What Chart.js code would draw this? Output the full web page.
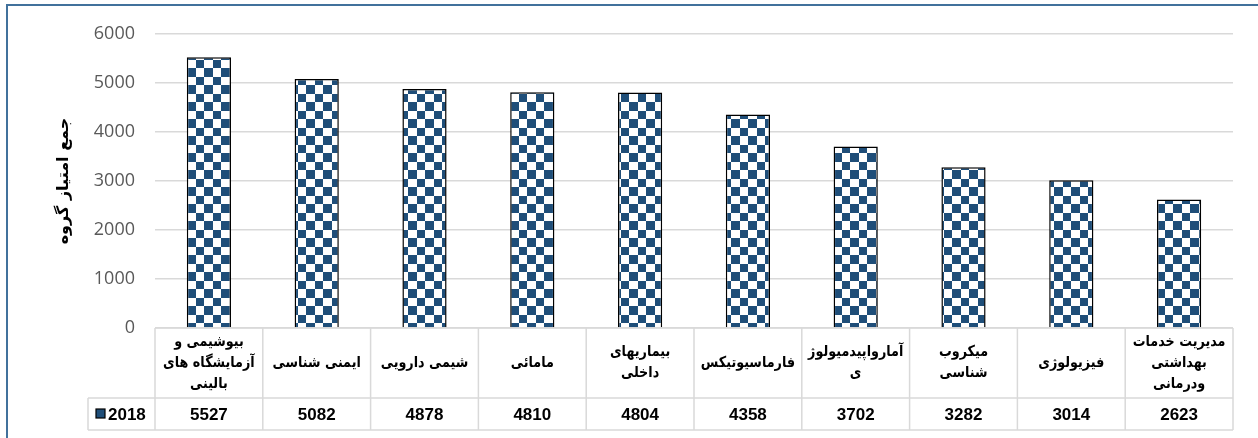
<!DOCTYPE html>
<html>
<head>
<meta charset="utf-8">
<script src="https://cdn.jsdelivr.net/npm/chart.js@4"></script>
<style>
  body { margin: 0; background: #fff; }
  #chart { display: block; }
</style>
</head>
<body>
<canvas id="chart" width="1258" height="438"></canvas>
<script>
// group names, one entry per column (lines as shown in the table)
const groups = [
    ["بیوشیمی و", "آزمایشگاه های", "بالینی"],
    ["ایمنی شناسی"],
    ["شیمی دارویی"],
    ["مامائی"],
    ["بیماریهای", "داخلی"],
    ["فارماسیوتیکس"],
    ["آمارواپیدمیولوژ", "ی"],
    ["میکروب", "شناسی"],
    ["فیزیولوژی"],
    ["مدیریت خدمات", "بهداشتی", "ودرمانی"]
];
const seriesName = "2018";
const scores = [5527, 5082, 4878, 4810, 4804, 4358, 3702, 3282, 3014, 2623];
const yTicks = [0, 1000, 2000, 3000, 4000, 5000, 6000];
const yTitle = "جمع امتیاز گروه";

const NAVY = "#1F4E79";
const GRID = "#D9D9D9";
const arabicFont = '"DejaVu Sans", sans-serif';
const numFont = '"Liberation Sans", Arial, sans-serif';

// checkered fill for the bars
function checkerPattern() {
    const tile = document.createElement("canvas");
    tile.width = 17;
    tile.height = 17;
    const t = tile.getContext("2d");
    t.fillStyle = "#fff";
    t.fillRect(0, 0, 17, 17);
    t.fillStyle = NAVY;
    t.fillRect(0, 0, 9, 9);
    t.fillRect(9, 9, 8, 8);
    return tile.getContext("2d").createPattern(tile, "repeat");
}

// frame + white background
const framePlugin = {
    id: "frame",
    beforeDraw(chart) {
        const ctx = chart.ctx;
        ctx.save();
        ctx.fillStyle = "#fff";
        ctx.fillRect(0, 0, chart.width, chart.height);
        ctx.strokeStyle = "#41719C";
        ctx.lineWidth = 2;
        ctx.strokeRect(7, 5, chart.width + 20, chart.height + 20);
        ctx.restore();
    }
};

// data table under the plot (category row + values row)
const tablePlugin = {
    id: "dataTable",
    afterDraw(chart) {
        const ctx = chart.ctx;
        const area = chart.chartArea;
        const xs = chart.scales.x;
        const top = area.bottom;
        const mid = top + 70;
        const bottom = mid + 32;
        const legendLeft = 88;
        const n = groups.length;
        const step = (area.right - area.left) / n;

        ctx.save();
        ctx.strokeStyle = GRID;
        ctx.lineWidth = 1.5;
        ctx.beginPath();
        ctx.moveTo(area.left, top);
        ctx.lineTo(area.right, top);
        ctx.moveTo(legendLeft, mid);
        ctx.lineTo(area.right, mid);
        ctx.moveTo(legendLeft, bottom);
        ctx.lineTo(area.right, bottom);
        ctx.moveTo(legendLeft, mid);
        ctx.lineTo(legendLeft, bottom);
        for (let i = 0; i <= n; i++) {
            const x = area.left + i * step;
            ctx.moveTo(x, top);
            ctx.lineTo(x, bottom);
        }
        ctx.stroke();

        ctx.fillStyle = "#000";
        ctx.textAlign = "center";
        ctx.textBaseline = "middle";
        const squeeze = 0.85; // narrower glyphs so long names fit their cell
        groups.forEach((lines, i) => {
            const cx = xs.getPixelForValue(i);
            const lh = 21;
            const y0 = (top + mid) / 2 - (lines.length - 1) * lh / 2;
            ctx.save();
            ctx.translate(cx, 0);
            ctx.scale(squeeze, 1);
            ctx.font = "bold 15px " + arabicFont;
            lines.forEach((line, j) => ctx.fillText(line, 0, y0 + j * lh));
            ctx.restore();
            ctx.font = "bold 17px " + numFont;
            ctx.fillText(String(scores[i]), cx, (mid + bottom) / 2 + 1);
        });

        // legend key
        const ky = (mid + bottom) / 2;
        ctx.fillStyle = NAVY;
        ctx.fillRect(96, ky - 5, 9, 9);
        ctx.strokeStyle = "#000";
        ctx.lineWidth = 1.2;
        ctx.strokeRect(96, ky - 5, 9, 9);
        ctx.fillStyle = "#000";
        ctx.textAlign = "left";
        ctx.font = "bold 17px " + numFont;
        ctx.fillText(seriesName, 108, ky + 1);
        ctx.restore();
    }
};

new Chart(document.getElementById("chart"), {
    type: "bar",
    data: {
        labels: groups.map(g => g.join(" ")),
        datasets: [{
            label: seriesName,
            data: scores,
            backgroundColor: checkerPattern(),
            borderColor: "#000",
            borderWidth: 1.5,
            barPercentage: 0.41,
            categoryPercentage: 1
        }]
    },
    options: {
        responsive: false,
        animation: false,
        devicePixelRatio: 1,
        layout: { padding: { top: 34, right: 25, bottom: 110, left: 0 } },
        plugins: {
            legend: { display: false },
            tooltip: { enabled: false }
        },
        scales: {
            x: { display: false },
            y: {
                min: 0,
                max: 6000,
                afterBuildTicks: (scale) => { scale.ticks = yTicks.map(v => ({ value: v })); },
                afterFit: (scale) => { scale.width = 155; },
                border: { display: false },
                grid: { color: GRID, lineWidth: 1.5, drawTicks: false },
                ticks: {
                    padding: 20,
                    color: "#595959",
                    font: { family: '"Open Sans", sans-serif', size: 18 },
                    callback: (v) => String(v)
                },
                title: {
                    display: true,
                    text: yTitle,
                    color: "#000",
                    padding: { top: 54, bottom: 0 },
                    font: { family: arabicFont, size: 16, weight: "bold" }
                }
            }
        }
    },
    plugins: [framePlugin, tablePlugin]
});
</script>
</body>
</html>
